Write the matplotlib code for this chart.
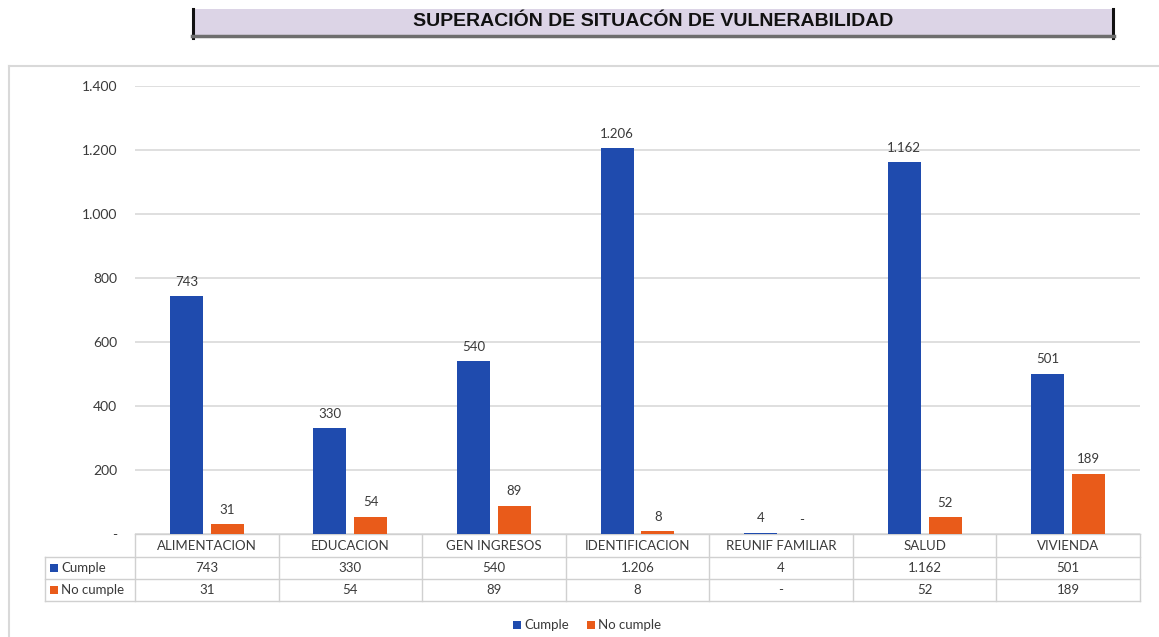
import matplotlib
matplotlib.use("Agg")
import matplotlib.pyplot as plt
from matplotlib.patches import Rectangle
import numpy as np

categories = ["ALIMENTACION", "EDUCACION", "GEN INGRESOS", "IDENTIFICACION",
              "REUNIF FAMILIAR", "SALUD", "VIVIENDA"]
cumple = [743, 330, 540, 1206, 4, 1162, 501]
no_cumple = [31, 54, 89, 8, 0, 52, 189]
series_names = ["Cumple", "No cumple"]
yticks = [0, 200, 400, 600, 800, 1000, 1200, 1400]
title = "SUPERACIÓN DE SITUACÓN DE VULNERABILIDAD"

BLUE = "#1f4bae"
ORANGE = "#e95b1a"
TXT = "#3a3a3a"
GRID = "#d9d9d9"
FONT = ["Lato", "DejaVu Sans"]


def fmt(v):
    if v == 0:
        return "-"
    return f"{v:,}".replace(",", ".")


W, H = 1159, 637
fig = plt.figure(figsize=(W / 100, H / 100), dpi=100)
plt.rcParams['font.family'] = FONT


def px(x0, y0, x1, y1):
    return [x0 / W, 1 - y1 / H, (x1 - x0) / W, (y1 - y0) / H]


# overlay axes in pixel coordinates
ov = fig.add_axes([0, 0, 1, 1])
ov.set_xlim(0, W)
ov.set_ylim(H, 0)
ov.axis("off")

# title box
ov.add_patch(Rectangle((192, 9), 1114 - 192, 28, facecolor="#dcd4e6", edgecolor="none"))
ov.plot([193, 193], [9, 38], color="#111111", lw=2.2)
ov.plot([1113, 1113], [9, 38], color="#111111", lw=2.2)
ov.plot([192, 1114], [36, 36], color="#6e6e6e", lw=2.5)
ov.text(653, 21, title, ha="center", va="center", fontsize=14, fontweight="bold",
        family=["Liberation Sans", "DejaVu Sans"], color="#111111")

# chart border
ov.plot([9, 9], [66, H], color="#d9d9d9", lw=1.5)
ov.plot([9, W], [66, 66], color="#d9d9d9", lw=1.5)

# main axes
L, R, T, B = 135, 1140, 86, 534
ax = fig.add_axes(px(L, T, R, B))
n = len(categories)
x = np.arange(n)
ax.set_xlim(-0.5, n - 0.5)
ax.set_ylim(0, 1400)
w = 0.23
off = 0.142
ax.bar(x - off, cumple, w, color=BLUE, zorder=3)
ax.bar(x + off, no_cumple, w, color=ORANGE, zorder=3)
for xi, v in zip(x, cumple):
    ax.annotate(fmt(v), (xi - off, v), xytext=(0, 6), textcoords="offset points",
                ha="center", va="bottom", fontsize=9.5, color=TXT)
for xi, v in zip(x, no_cumple):
    ax.annotate(fmt(v), (xi + off, v), xytext=(0, 6), textcoords="offset points",
                ha="center", va="bottom", fontsize=9.5, color=TXT)
ax.set_yticks(yticks)
ax.set_yticklabels([fmt(v) for v in yticks])
ax.tick_params(axis="y", length=0, pad=13, labelsize=10, labelcolor=TXT)
ax.tick_params(axis="x", length=0, labelbottom=False)
ax.grid(axis="y", color=GRID, lw=1.2, zorder=0)
for s in ax.spines.values():
    s.set_visible(False)
ax.patch.set_alpha(0)

# data table
col_w = (R - L) / n
rows_y = [534, 557, 579, 601]
lc = "#d0d0d0"
ov.plot([L, R], [rows_y[0], rows_y[0]], color=lc, lw=1)
for yy in rows_y[1:]:
    ov.plot([45, R], [yy, yy], color=lc, lw=1)
ov.plot([45, 45], [rows_y[1], rows_y[3]], color=lc, lw=1)
for i in range(n + 1):
    xx = L + i * col_w
    ov.plot([xx, xx], [rows_y[0], rows_y[3]], color=lc, lw=1)
for i, c in enumerate(categories):
    cx = L + (i + 0.5) * col_w
    ov.text(cx, (rows_y[0] + rows_y[1]) / 2, c, ha="center", va="center", fontsize=9.5, color=TXT)
    ov.text(cx, (rows_y[1] + rows_y[2]) / 2, fmt(cumple[i]), ha="center", va="center", fontsize=9.5, color=TXT)
    ov.text(cx, (rows_y[2] + rows_y[3]) / 2, fmt(no_cumple[i]), ha="center", va="center", fontsize=9.5, color=TXT)
for j, (nm, col) in enumerate(zip(series_names, [BLUE, ORANGE])):
    yc = (rows_y[j + 1] + rows_y[j + 2]) / 2
    ov.add_patch(Rectangle((50, yc - 4), 8, 8, facecolor=col, edgecolor="none"))
    ov.text(61, yc, nm, ha="left", va="center", fontsize=9.5, color=TXT)

# legend
lx = [513, 587]
for xs, nm, col in zip(lx, series_names, [BLUE, ORANGE]):
    ov.add_patch(Rectangle((xs, 621), 8, 8, facecolor=col, edgecolor="none"))
    ov.text(xs + 11, 625, nm, ha="left", va="center", fontsize=9.5, color=TXT)

fig.savefig("out.png", dpi=100)
